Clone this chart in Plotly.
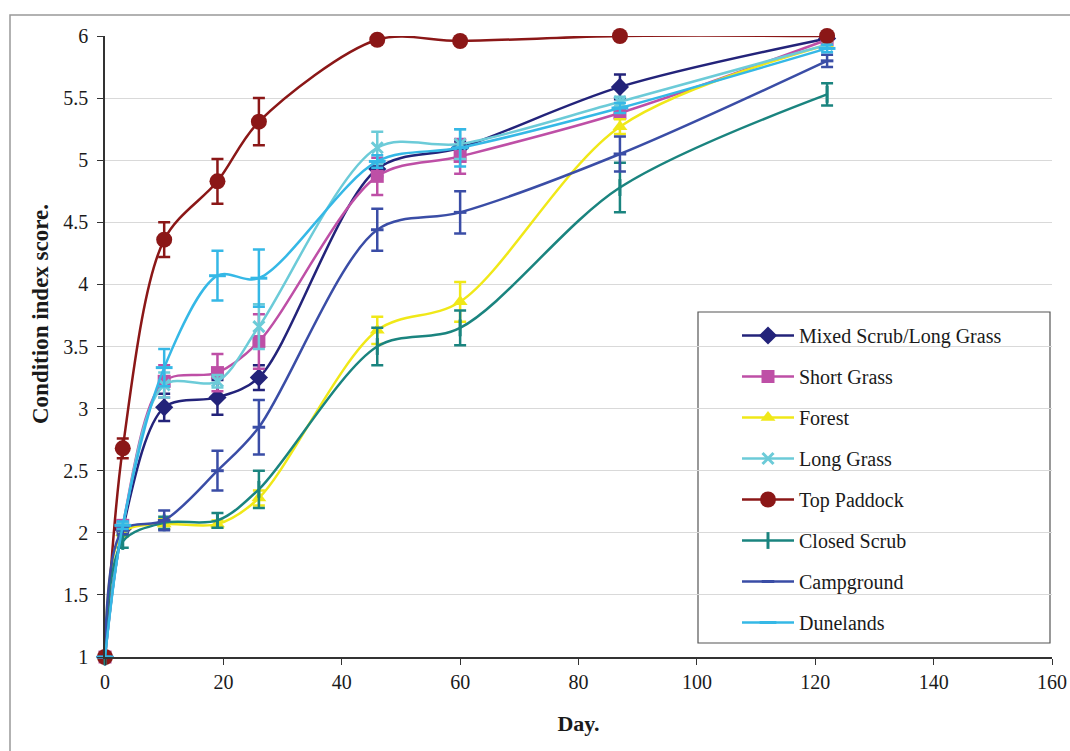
import plotly.graph_objects as go

days = [0, 3, 10, 19, 26, 46, 60, 87, 122]

series_names = ["Mixed Scrub/Long Grass", "Short Grass", "Forest", "Long Grass",
                "Top Paddock", "Closed Scrub", "Campground", "Dunelands"]

mixed_scrub = [1, 2.03, 3.01, 3.09, 3.25, 4.93, 5.10, 5.59, 5.98]
mixed_scrub_err = [0, 0.03, 0.11, 0.14, 0.10, 0.06, 0.05, 0.10, 0.02]

short_grass = [1, 2.06, 3.22, 3.29, 3.54, 4.87, 5.03, 5.38, 5.97]
short_grass_err = [0, 0.03, 0.13, 0.15, 0.22, 0.15, 0.14, 0.04, 0.02]

forest = [1, 2.00, 2.07, 2.07, 2.28, 3.63, 3.86, 5.27, 5.93]
forest_err = [0, 0.03, 0.04, 0.03, 0.06, 0.11, 0.16, 0.06, 0.03]

long_grass = [1, 2.05, 3.19, 3.22, 3.66, 5.10, 5.13, 5.47, 5.93]
long_grass_err = [0, 0.03, 0.10, 0.05, 0.18, 0.13, 0.12, 0.04, 0.03]

top_paddock = [1, 2.68, 4.36, 4.83, 5.31, 5.97, 5.96, 6.00, 6.00]
top_paddock_err = [0, 0.08, 0.14, 0.18, 0.19, 0.01, 0.01, 0.01, 0.01]

closed_scrub = [1, 1.93, 2.08, 2.10, 2.35, 3.50, 3.65, 4.78, 5.53]
closed_scrub_err = [0, 0.05, 0.05, 0.06, 0.15, 0.15, 0.14, 0.20, 0.09]

campground = [1, 2.02, 2.10, 2.50, 2.85, 4.44, 4.58, 5.05, 5.80]
campground_err = [0, 0.03, 0.08, 0.16, 0.22, 0.17, 0.17, 0.14, 0.05]

dunelands = [1, 2.06, 3.33, 4.07, 4.05, 4.99, 5.10, 5.42, 5.90]
dunelands_err = [0, 0.03, 0.15, 0.20, 0.23, 0.05, 0.15, 0.04, 0.03]

values = [mixed_scrub, short_grass, forest, long_grass, top_paddock,
          closed_scrub, campground, dunelands]
errors = [mixed_scrub_err, short_grass_err, forest_err, long_grass_err,
          top_paddock_err, closed_scrub_err, campground_err, dunelands_err]

colors = ["#23237A", "#BE4FA6", "#F0E818", "#6CCBD8",
          "#8B1717", "#1A847F", "#3A4DA6", "#35B8E6"]
symbols = ["diamond", "square", "triangle-up", "x-thin-open",
           "circle", "line-ns-open", "line-ew-open", "line-ew-open"]
sizes = [14, 13, 13, 11, 16, 12, 9, 12]

x_ticks = [0, 20, 40, 60, 80, 100, 120, 140, 160]
y_ticks = [1, 1.5, 2, 2.5, 3, 3.5, 4, 4.5, 5, 5.5, 6]

fig = go.Figure()
for name, vals, err, col, sym, sz in zip(series_names, values, errors, colors, symbols, sizes):
    fig.add_trace(go.Scatter(
        x=days, y=vals, name=name, mode="lines+markers",
        legendgroup=name, cliponaxis=False,
        line=dict(color=col, width=2.5, shape="spline", smoothing=0.9),
        marker=dict(symbol=sym, size=sz, color=col,
                    line=dict(color=col, width=3 if "line" in sym or "x" in sym else 0)),
        error_y=dict(type="data", array=err, visible=True, color=col,
                     thickness=2.5, width=6),
    ))

font_family = "Liberation Serif, Times New Roman, serif"

PW, PH = 947, 621  # plot area size in pixels (x 105..1052, y 36..657)


def px_x(sx):
    return (sx - 105) / PW


def px_y(sy):
    return (657 - sy) / PH


fig.update_layout(
    width=1070, height=751,
    margin=dict(l=105, r=18, t=36, b=94, autoexpand=False),
    paper_bgcolor="white", plot_bgcolor="white",
    font=dict(family=font_family, size=20, color="#1a1a1a"),
    showlegend=True,
    legend=dict(
        x=px_x(737), y=px_y(316), xanchor="left", yanchor="top",
        bgcolor="rgba(0,0,0,0)", borderwidth=0,
        font=dict(family=font_family, size=20, color="#1a1a1a"),
        tracegroupgap=12, itemwidth=52,
    ),
    xaxis=dict(
        range=[0, 160], tickvals=x_ticks, ticktext=[str(v) for v in x_ticks],
        showgrid=False, zeroline=False, automargin=False,
        showline=True, linecolor="#333333", linewidth=1.5,
        ticks="outside", ticklen=6, tickcolor="#333333",
        title=dict(text="<b>Day.</b>", font=dict(size=22), standoff=24),
    ),
    yaxis=dict(
        range=[1, 6], tickvals=y_ticks, ticktext=[f"{v:g}" for v in y_ticks],
        showgrid=True, gridcolor="#d9d9d9", gridwidth=1, zeroline=False, automargin=False,
        showline=True, linecolor="#333333", linewidth=1.5,
        ticks="outside", ticklen=6, tickcolor="#333333", ticklabelstandoff=5,
    ),
    annotations=[
        dict(text="<b>Condition index score.</b>", xref="paper", yref="paper",
             x=px_x(40), y=px_y(314), xanchor="center", yanchor="middle",
             textangle=-90, showarrow=False, font=dict(size=23, family=font_family, color="#1a1a1a")),
    ],
    shapes=[
        dict(type="rect", xref="paper", yref="paper",
             x0=px_x(698), x1=px_x(1050), y0=px_y(643), y1=px_y(312),
             line=dict(color="#555555", width=1.2), fillcolor="white", layer="below"),
        dict(type="rect", xref="paper", yref="paper",
             x0=px_x(10), x1=px_x(1085), y0=px_y(770), y1=px_y(15),
             line=dict(color="#999999", width=1.5), fillcolor="rgba(0,0,0,0)", layer="below"),
    ],
)

fig.write_html("out.html", config={"displayModeBar": False},
               post_script="document.body.style.margin='0';document.body.style.overflow='hidden';")
